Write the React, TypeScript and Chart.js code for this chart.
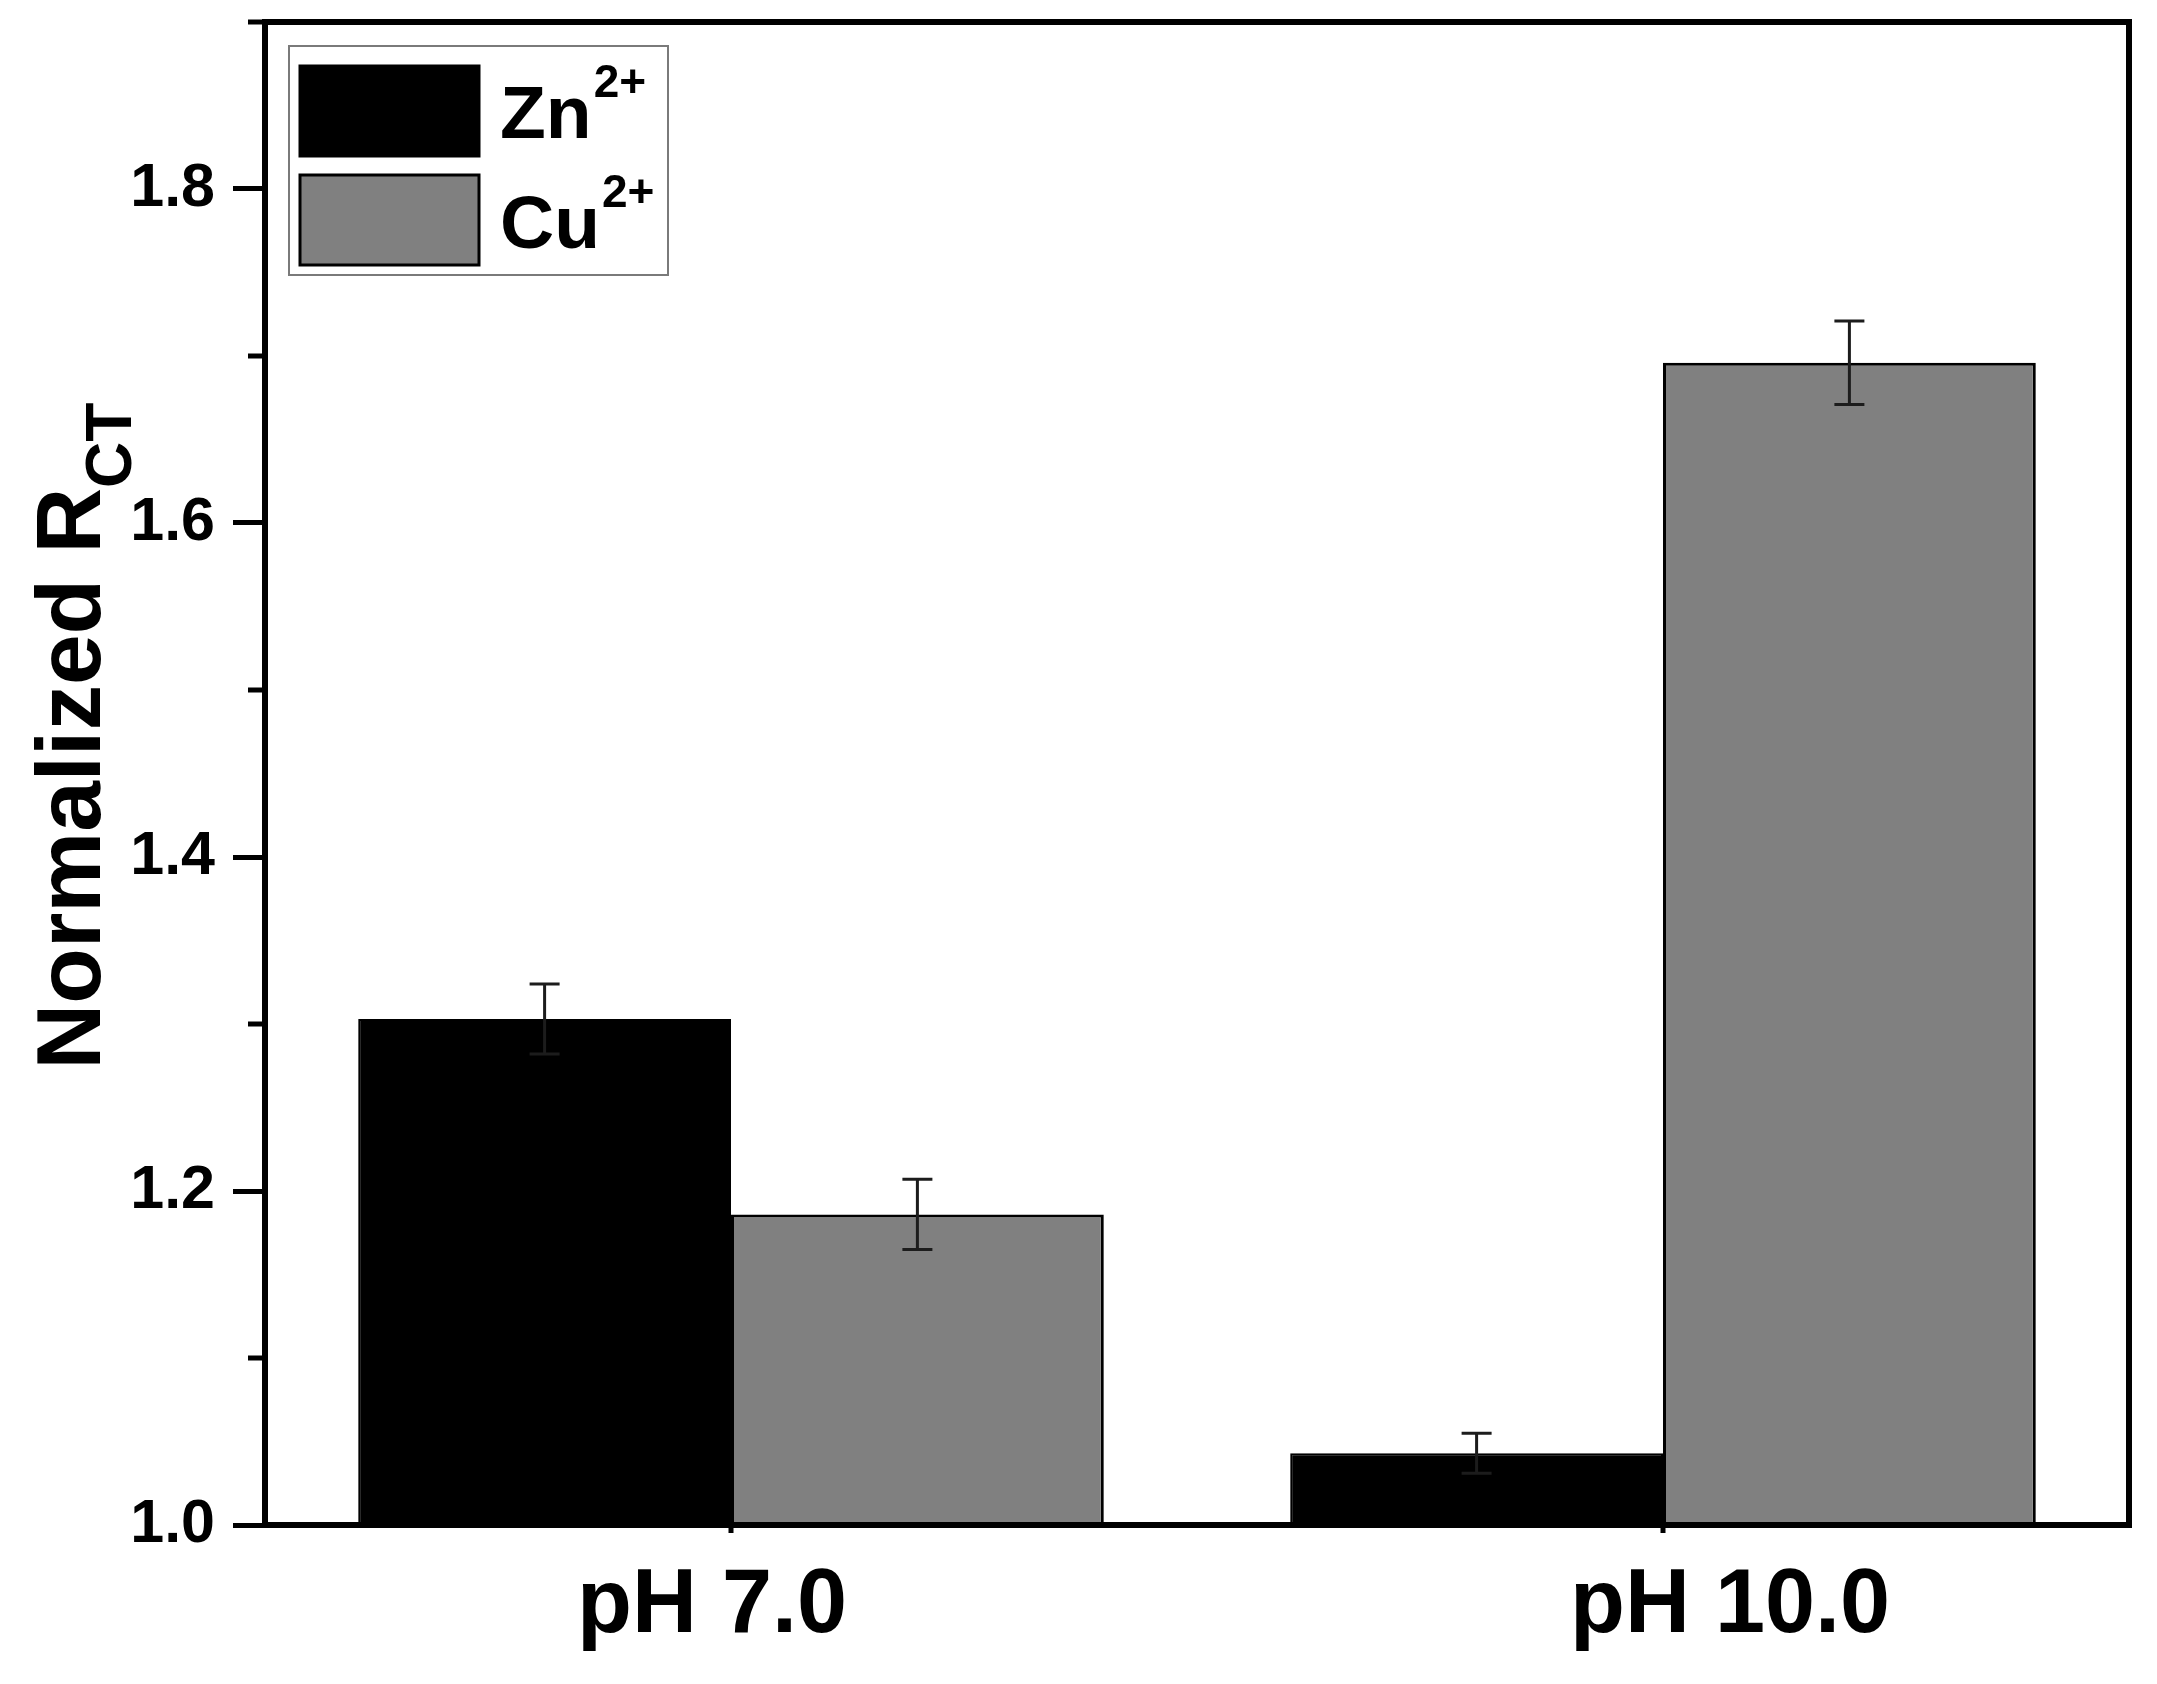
import { useEffect, useRef } from "react";
import { Chart, registerables, type Plugin } from "chart.js";

Chart.register(...registerables);

const FONT = "'Liberation Sans', Arial, Helvetica, sans-serif";

// data
const CATEGORIES = ["pH 7.0", "pH 10.0"];
const ZN_VALUES = [1.303, 1.043];
const ZN_ERRORS = [0.021, 0.012];
const CU_VALUES = [1.186, 1.696];
const CU_ERRORS = [0.021, 0.025];
const Y_MIN = 1.0;
const Y_MAX = 1.9;
const MAJOR_TICKS = [1.0, 1.2, 1.4, 1.6, 1.8];
const MINOR_TICKS = [1.1, 1.3, 1.5, 1.7, 1.9];

// x labels in the original sit a little off the category centres
const X_LABEL_SHIFT = [-19, 67];

const errorBars: Plugin<"bar"> = {
  id: "errorBars",
  afterDatasetsDraw(chart) {
    const { ctx } = chart;
    const y = chart.scales.y;
    ctx.save();
    ctx.strokeStyle = "#1c1c1c";
    ctx.lineWidth = 3;
    chart.data.datasets.forEach((ds: any, i) => {
      const meta = chart.getDatasetMeta(i);
      meta.data.forEach((bar: any, j) => {
        const v = ds.data[j] as number;
        const e = ds.errors[j] as number;
        const top = y.getPixelForValue(v + e);
        const bot = y.getPixelForValue(v - e);
        ctx.beginPath();
        ctx.moveTo(bar.x, top);
        ctx.lineTo(bar.x, bot);
        ctx.moveTo(bar.x - 15, top);
        ctx.lineTo(bar.x + 15, top);
        ctx.moveTo(bar.x - 15, bot);
        ctx.lineTo(bar.x + 15, bot);
        ctx.stroke();
      });
    });
    ctx.restore();
  },
};

const decor: Plugin<"bar"> = {
  id: "decor",
  afterDraw(chart) {
    const { ctx, chartArea: a } = chart;
    const x = chart.scales.x;
    const y = chart.scales.y;
    ctx.save();

    // frame
    ctx.strokeStyle = "#000";
    ctx.lineWidth = 6;
    ctx.strokeRect(a.left, a.top, a.right - a.left, a.bottom - a.top);

    // minor ticks on y
    ctx.lineWidth = 5;
    ctx.beginPath();
    MINOR_TICKS.forEach((v) => {
      const py = y.getPixelForValue(v);
      ctx.moveTo(a.left, py);
      ctx.lineTo(a.left - 17, py);
    });
    // short ticks at category centres
    CATEGORIES.forEach((_, i) => {
      const px = x.getPixelForValue(i);
      ctx.moveTo(px, a.bottom);
      ctx.lineTo(px, a.bottom + 8);
    });
    ctx.stroke();

    // x labels
    ctx.fillStyle = "#000";
    ctx.font = `bold 90px ${FONT}`;
    ctx.textAlign = "center";
    ctx.textBaseline = "alphabetic";
    CATEGORIES.forEach((c, i) => {
      ctx.fillText(c, x.getPixelForValue(i) + X_LABEL_SHIFT[i], 1632);
    });

    // y title: Normalized R_CT
    ctx.save();
    ctx.translate(100, 736);
    ctx.rotate(-Math.PI / 2);
    ctx.textAlign = "left";
    const main = "Normalized R";
    const sub = "CT";
    ctx.font = `bold 91px ${FONT}`;
    const wMain = ctx.measureText(main).width;
    ctx.font = `bold 64px ${FONT}`;
    const wSub = ctx.measureText(sub).width;
    const start = -(wMain + wSub) / 2;
    ctx.font = `bold 91px ${FONT}`;
    ctx.fillText(main, start, 0);
    ctx.font = `bold 64px ${FONT}`;
    ctx.fillText(sub, start + wMain, 31);
    ctx.restore();

    // legend
    ctx.lineWidth = 2;
    ctx.strokeStyle = "#7a7a7a";
    ctx.strokeRect(289, 46, 379, 229);
    const rows = [
      { y0: 66, base: 138 },
      { y0: 175, base: 248 },
    ];
    chart.data.datasets.forEach((ds: any, i) => {
      const r = rows[i];
      ctx.fillStyle = ds.backgroundColor;
      ctx.fillRect(300, r.y0, 179, 90);
      ctx.lineWidth = 3;
      ctx.strokeStyle = "#000";
      ctx.strokeRect(300, r.y0, 179, 90);
      ctx.fillStyle = "#000";
      ctx.textAlign = "left";
      ctx.font = `bold 75px ${FONT}`;
      ctx.fillText(ds.symbol, 500, r.base);
      const w = ctx.measureText(ds.symbol).width;
      ctx.font = `bold 46px ${FONT}`;
      ctx.fillText(ds.charge, 500 + w + 2, r.base - 41);
    });

    ctx.restore();
  },
};

function BarChart() {
  const canvasRef = useRef<HTMLCanvasElement>(null);
  const chartRef = useRef<Chart | null>(null);

  useEffect(() => {
    if (!canvasRef.current) return;
    chartRef.current?.destroy();

    chartRef.current = new Chart(canvasRef.current, {
      type: "bar",
      data: {
        labels: CATEGORIES,
        datasets: [
          {
            label: "Zn2+",
            symbol: "Zn",
            charge: "2+",
            data: ZN_VALUES,
            errors: ZN_ERRORS,
            backgroundColor: "#000000",
            borderColor: "#000000",
            borderWidth: 2,
          } as any,
          {
            label: "Cu2+",
            symbol: "Cu",
            charge: "2+",
            data: CU_VALUES,
            errors: CU_ERRORS,
            backgroundColor: "#808080",
            borderColor: "#000000",
            borderWidth: 3,
          } as any,
        ],
      },
      options: {
        responsive: true,
        maintainAspectRatio: false,
        animation: false,
        categoryPercentage: 0.8,
        barPercentage: 1.0,
        layout: { padding: { top: 22, right: 28, left: 0, bottom: 0 } },
        plugins: {
          legend: { display: false },
          tooltip: { enabled: false },
        },
        scales: {
          x: {
            grid: { display: false },
            border: { display: false },
            ticks: { display: false },
            afterFit: (s: any) => {
              s.height = 159;
            },
          },
          y: {
            min: Y_MIN,
            max: Y_MAX,
            bounds: "data",
            border: { display: false },
            grid: {
              drawOnChartArea: false,
              drawTicks: true,
              tickLength: 32,
              lineWidth: 5,
              color: "#000",
            },
            afterBuildTicks: (s: any) => {
              s.ticks = MAJOR_TICKS.map((value) => ({ value }));
            },
            ticks: {
              padding: 18,
              color: "#000",
              font: { family: FONT, size: 61, weight: "bold" },
              callback: (v: any) => Number(v).toFixed(1),
            },
            afterFit: (s: any) => {
              s.width = 265;
              s.paddingTop = 0;
              s.paddingBottom = 0;
            },
          },
        },
      },
      plugins: [errorBars, decor],
    });

    return () => {
      chartRef.current?.destroy();
    };
  }, []);

  return (
    <div style={{ position: "relative", width: 2157, height: 1684, background: "#fff" }}>
      <canvas ref={canvasRef} />
    </div>
  );
}

export default function App() {
  useEffect(() => {
    document.body.style.margin = "0";
  }, []);
  return <BarChart />;
}
